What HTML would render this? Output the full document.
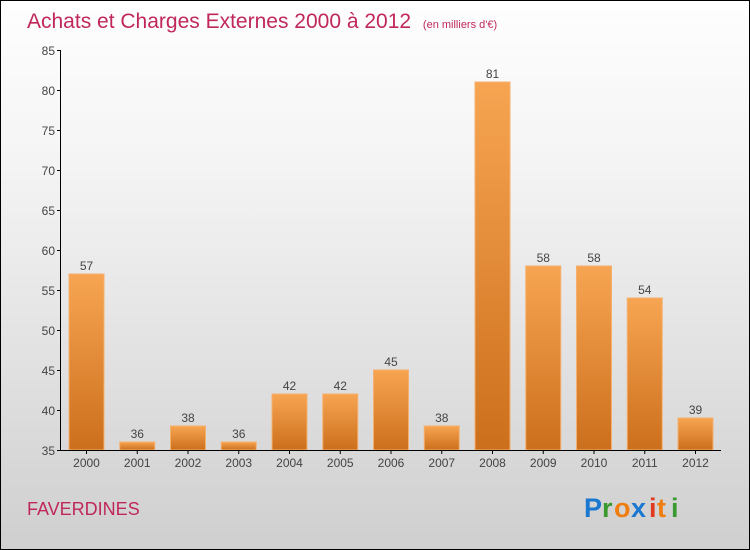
<!DOCTYPE html>
<html><head><meta charset="utf-8"><style>
body{margin:0}
#c{position:relative;width:748px;height:548px;border:1px solid #000;background:linear-gradient(#fefefe,#f4f4f4 30%,#cfcfcf);font-family:"Liberation Sans",sans-serif;overflow:hidden}
</style></head><body>
<div id="c">
<svg width="748" height="548" id="s">
<defs><linearGradient id="g" x1="0" y1="0" x2="0" y2="1"><stop offset="0" stop-color="#f7a552"/><stop offset="1" stop-color="#cc6f1c"/></linearGradient></defs>
<text x="26" y="27" font-size="21" fill="#c0285a">Achats et Charges Externes 2000 à 2012 <tspan font-size="11" dx="6">(en milliers d'€)</tspan></text>
<text x="26" y="514" font-size="18" fill="#c0285a">FAVERDINES</text>
<g font-size="27" font-weight="bold"><text x="583" y="516" fill="#1a78d0">P</text><text x="601" y="516" fill="#3a9a30">r</text><text x="613" y="516" fill="#f07d10">o</text><text x="630" y="516" fill="#1a78d0">x</text><text x="648" y="516" fill="#e03a20">i</text><text x="656" y="516" fill="#f07d10">t</text><text x="670" y="516" fill="#3a9a30">i</text></g>
<g id="bars"></g><g id="axes"></g>
</svg></div>
<script>
const years=["2000","2001","2002","2003","2004","2005","2006","2007","2008","2009","2010","2011","2012"];
const values=[57,36,38,36,42,42,45,38,81,58,58,54,39];
const yTicks=[35,40,45,50,55,60,65,70,75,80,85];
const NS="http://www.w3.org/2000/svg";
const y=v=>449-(v-35)*8;
const x=i=>68+i*50.75;
function mk(t,a,p){const e=document.createElementNS(NS,t);for(const k in a)e.setAttribute(k,a[k]);p.appendChild(e);return e;}
const B=document.getElementById('bars'),A=document.getElementById('axes');
values.forEach((v,i)=>{
 const r=mk('rect',{x:x(i),y:y(v),width:35,height:y(35)-y(v),fill:'url(#g)',stroke:'#f5b070','stroke-width':1},B);
 
 
 const t=mk('text',{x:x(i)+17.5,y:y(v)-4,'text-anchor':'middle','font-size':12,fill:'#444'},B);t.textContent=v;
 
 
 const l=mk('text',{x:x(i)+17.5,y:466,'text-anchor':'middle','font-size':12,fill:'#444'},A);l.textContent=years[i];
 
 
 mk('line',{x1:x(i)+17.5,x2:x(i)+17.5,y1:449,y2:453,stroke:'#000'},A);
});
mk('line',{x1:59.5,x2:59.5,y1:49,y2:449,stroke:'#000'},A);
mk('line',{x1:59,x2:720,y1:449.5,y2:449.5,stroke:'#000'},A);
yTicks.forEach(v=>{
 mk('line',{x1:56,x2:60,y1:y(v)+.5,y2:y(v)+.5,stroke:'#000'},A);
 const t=mk('text',{x:54,y:y(v)+5,'text-anchor':'end','font-size':12,fill:'#444'},A);t.textContent=v;
 
 
});
</script>
</body></html>
